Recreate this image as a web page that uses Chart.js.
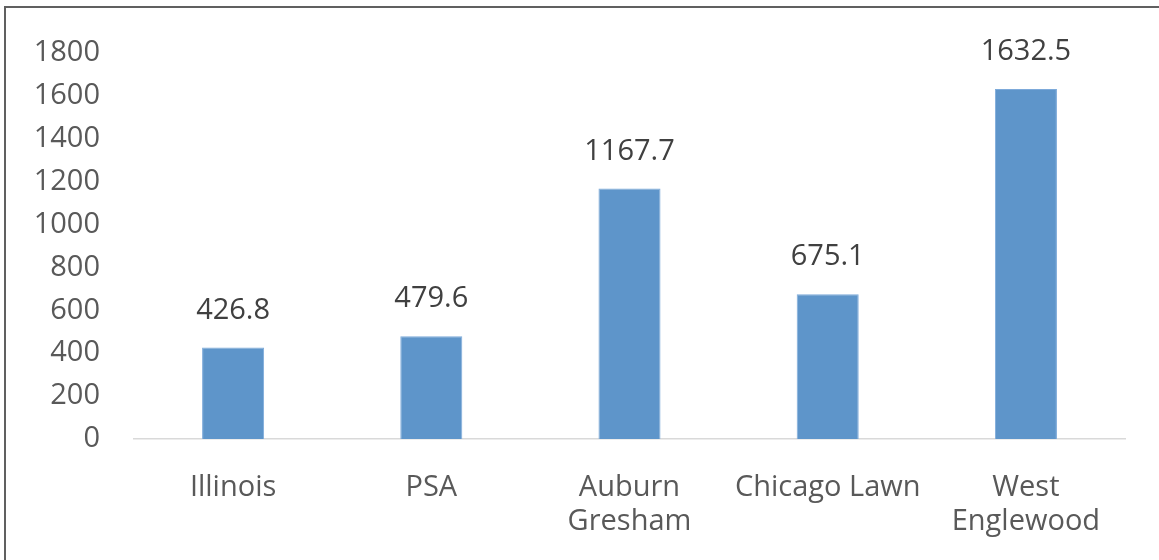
<!DOCTYPE html>
<html>
<head>
<meta charset="utf-8">
<script src="https://cdn.jsdelivr.net/npm/chart.js@4.4.1/dist/chart.umd.min.js"></script>
<style>
  body { margin: 0; background: #fff; }
  #wrap { position: relative; width: 1159px; height: 560px; }
  #frame {
    position: absolute; left: 4px; top: 6px; right: 0; bottom: 0;
    border-top: 2px solid #606060; border-left: 2px solid #606060;
    pointer-events: none;
  }
</style>
</head>
<body>
<div id="wrap">
  <canvas id="chart" width="1159" height="560"></canvas>
  <div id="frame"></div>
</div>
<script>
// categories and values
const categories = ["Illinois", "PSA", ["Auburn", "Gresham"], "Chicago Lawn", ["West", "Englewood"]];
const values = [426.8, 479.6, 1167.7, 675.1, 1632.5];
const yTicks = [0, 200, 400, 600, 800, 1000, 1200, 1400, 1600, 1800];

const FONT = "'Open Sans', sans-serif";

// draws the value above each bar
const valueLabels = {
  id: "valueLabels",
  afterDatasetsDraw(chart) {
    const ctx = chart.ctx;
    const meta = chart.getDatasetMeta(0);
    ctx.save();
    ctx.font = "29px " + FONT;
    ctx.fillStyle = "#404040";
    ctx.textAlign = "center";
    ctx.textBaseline = "middle";
    meta.data.forEach((bar, i) => {
      ctx.fillText(values[i].toFixed(1), bar.x, bar.y - 37);
    });
    ctx.restore();
  }
};

new Chart(document.getElementById("chart"), {
  type: "bar",
  data: {
    labels: categories,
    datasets: [{
      data: values,
      backgroundColor: "#5E95CA",
      borderColor: "#7DAADA",
      borderWidth: 1,
      barPercentage: 0.313,
      categoryPercentage: 1
    }]
  },
  options: {
    responsive: false,
    animation: false,
    layout: { padding: { top: 53, right: 34, left: 0, bottom: 0 } },
    plugins: { legend: { display: false }, tooltip: { enabled: false } },
    scales: {
      x: {
        grid: { display: false },
        border: { color: "#D9D9D9", width: 1.5 },
        ticks: {
          color: "#595959",
          font: { family: FONT, size: 29, lineHeight: 1.17 },
          padding: 24,
          maxRotation: 0,
          autoSkip: false
        },
        afterFit(scale) { scale.height = 121; }
      },
      y: {
        min: 0,
        max: 1800,
        afterBuildTicks(scale) { scale.ticks = yTicks.map(v => ({ value: v })); },
        grid: { display: false },
        border: { display: false },
        ticks: {
          color: "#595959",
          font: { family: FONT, size: 29 },
          padding: 26,
          callback: v => String(v)
        },
        afterFit(scale) { scale.width = 134; }
      }
    }
  },
  plugins: [valueLabels]
});
</script>
</body>
</html>
